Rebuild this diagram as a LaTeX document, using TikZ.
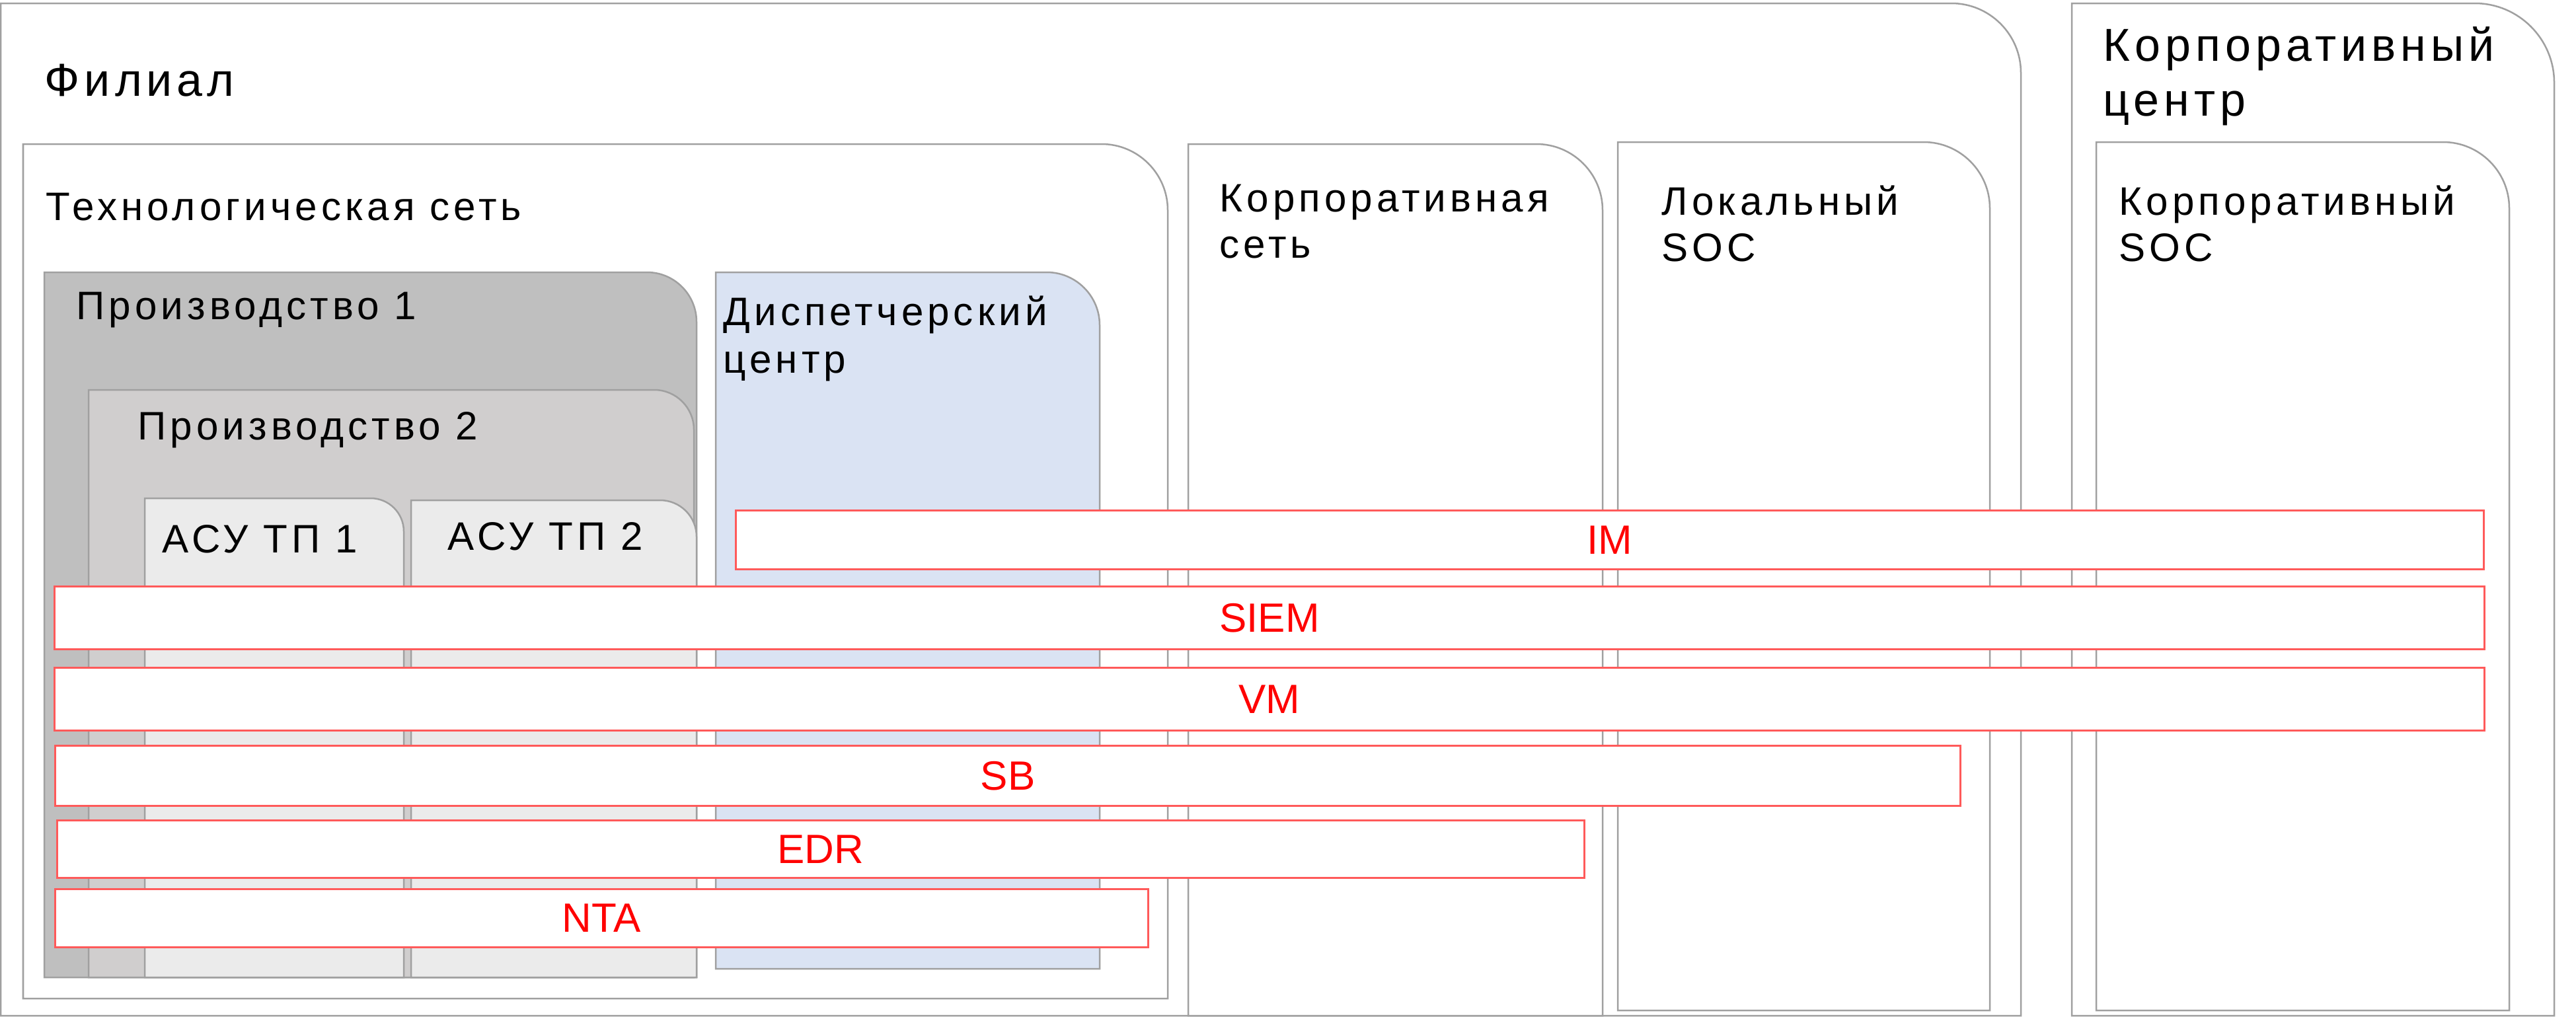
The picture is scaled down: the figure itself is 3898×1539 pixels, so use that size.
\documentclass[tikz,border=0pt]{standalone}
\usepackage{fontspec}
\setmainfont{Liberation Sans}
\newfontfamily\ttlfont[LetterSpace=10]{Liberation Sans}
\definecolor{boxline}{HTML}{A0A0A0}
\definecolor{prodA}{HTML}{BFBFBF}
\definecolor{prodB}{HTML}{D0CECE}
\definecolor{asufill}{HTML}{EBEBEB}
\definecolor{dispfill}{HTML}{DAE3F3}
\definecolor{redline}{HTML}{FF5A5A}
\newcommand\tabbox[6]{\path[#1] (#2,#5) -- (#2,#3) -- ({#4-#6},#3) .. controls ({#4-0.45*#6},#3) and (#4,{#3+0.45*#6}) .. (#4,{#3+#6}) -- (#4,#5) -- cycle;}
\newcommand\twoline[3]{\vtop{\baselineskip=#3\hbox{#1}\hbox{#2}}}
\begin{document}
\begin{tikzpicture}[x=0.01cm,y=-0.01cm,
  frame/.style={draw=boxline,line width=0.025cm},
  ttl/.style={anchor=base west,inner sep=0pt,font=\ttlfont\fontsize{17.1pt}{20pt}\selectfont},
  bigttl/.style={anchor=base west,inner sep=0pt,font=\ttlfont\fontsize{19.9pt}{24pt}\selectfont},
  tool/.style={draw=redline,fill=white,line width=0.03cm,text=red,inner sep=0pt,
    font=\fontsize{17.6pt}{20pt}\selectfont}]
\useasboundingbox[fill=white] (0,0) rectangle (3898,1539);
% outer containers
\tabbox{frame,fill=white}{1}{5}{3058}{1537}{105}
\tabbox{frame,fill=white}{3135}{5}{3865}{1537}{120}
% second level
\tabbox{frame,fill=white}{35}{218}{1767}{1511}{100}
\tabbox{frame,fill=white}{1798}{218}{2425}{1537}{100}
\tabbox{frame,fill=white}{2448}{215}{3011}{1529}{100}
\tabbox{frame,fill=white}{3172}{215}{3797}{1529}{100}
% technological network contents
\tabbox{frame,fill=prodA}{67}{412}{1054}{1479}{75}
\tabbox{frame,fill=prodB}{134}{590}{1050}{1479}{60}
\tabbox{frame,fill=asufill}{219}{754}{611}{1479}{50}
\tabbox{frame,fill=asufill}{622}{757}{1054}{1479}{55}
\tabbox{frame,fill=dispfill}{1083}{412}{1664}{1466}{80}
% titles
\node[bigttl] (t-fil) at (67,145) {Филиал};
\node[bigttl] (t-kc) at (3182,92) {\twoline{Корпоративный}{центр}{0.83cm}};
\node[ttl] (t-tech) at (69,333) {Технологическая сеть};
\node[ttl] (t-ks) at (1845,320) {\twoline{Корпоративная}{сеть}{0.70cm}};
\node[ttl] (t-lsoc) at (2514,325) {\twoline{Локальный}{SOC}{0.70cm}};
\node[ttl] (t-ksoc) at (3206,325) {\twoline{Корпоративный}{SOC}{0.70cm}};
\node[ttl] (t-p1) at (115,483) {Производство 1};
\node[ttl] (t-p2) at (208,665) {Производство 2};
\node[ttl] (t-a1) at (245,836) {АСУ ТП 1};
\node[ttl] (t-a2) at (677,832) {АСУ ТП 2};
\node[ttl] (t-dc) at (1094,492) {\twoline{Диспетчерский}{центр}{0.72cm}};
% security tools
\node[tool,minimum width=26.44cm,minimum height=0.88cm] (im) at (2436,817) {IM};
\node[tool,minimum width=36.74cm,minimum height=0.94cm] (siem) at (1921,935) {SIEM};
\node[tool,minimum width=36.74cm,minimum height=0.94cm] (vm) at (1921,1058) {VM};
\node[tool,minimum width=28.82cm,minimum height=0.90cm] (sb) at (1525,1174) {SB};
\node[tool,minimum width=23.10cm,minimum height=0.86cm] (edr) at (1242,1285) {EDR};
\node[tool,minimum width=16.53cm,minimum height=0.87cm] (nta) at (910.5,1389.5) {NTA};
\end{tikzpicture}
\end{document}
